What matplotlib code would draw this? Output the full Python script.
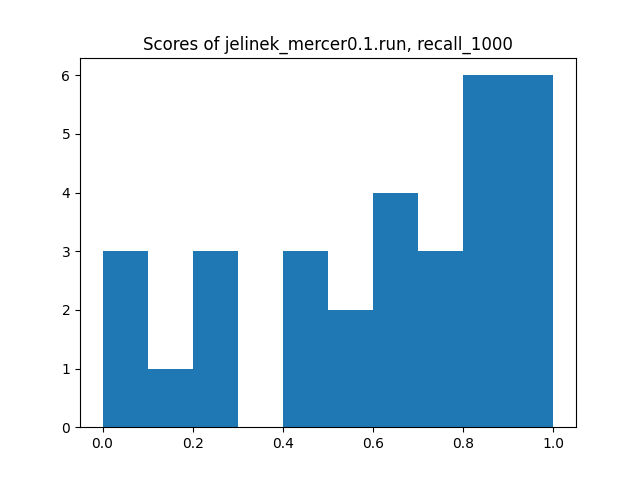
import matplotlib
matplotlib.use("Agg")
import matplotlib.pyplot as plt
import numpy as np

bin_edges = [0.0, 0.1, 0.2, 0.3, 0.4, 0.5, 0.6, 0.7, 0.8, 0.9, 1.0]
counts = [3, 1, 3, 0, 3, 2, 4, 3, 6, 6]

fig, ax = plt.subplots(figsize=(6.4, 4.8), dpi=100)
centers = (np.array(bin_edges[:-1]) + np.array(bin_edges[1:])) / 2
ax.hist(centers, bins=bin_edges, weights=counts)
ax.set_title("Scores of jelinek_mercer0.1.run, recall_1000")
fig.savefig("out.png")
